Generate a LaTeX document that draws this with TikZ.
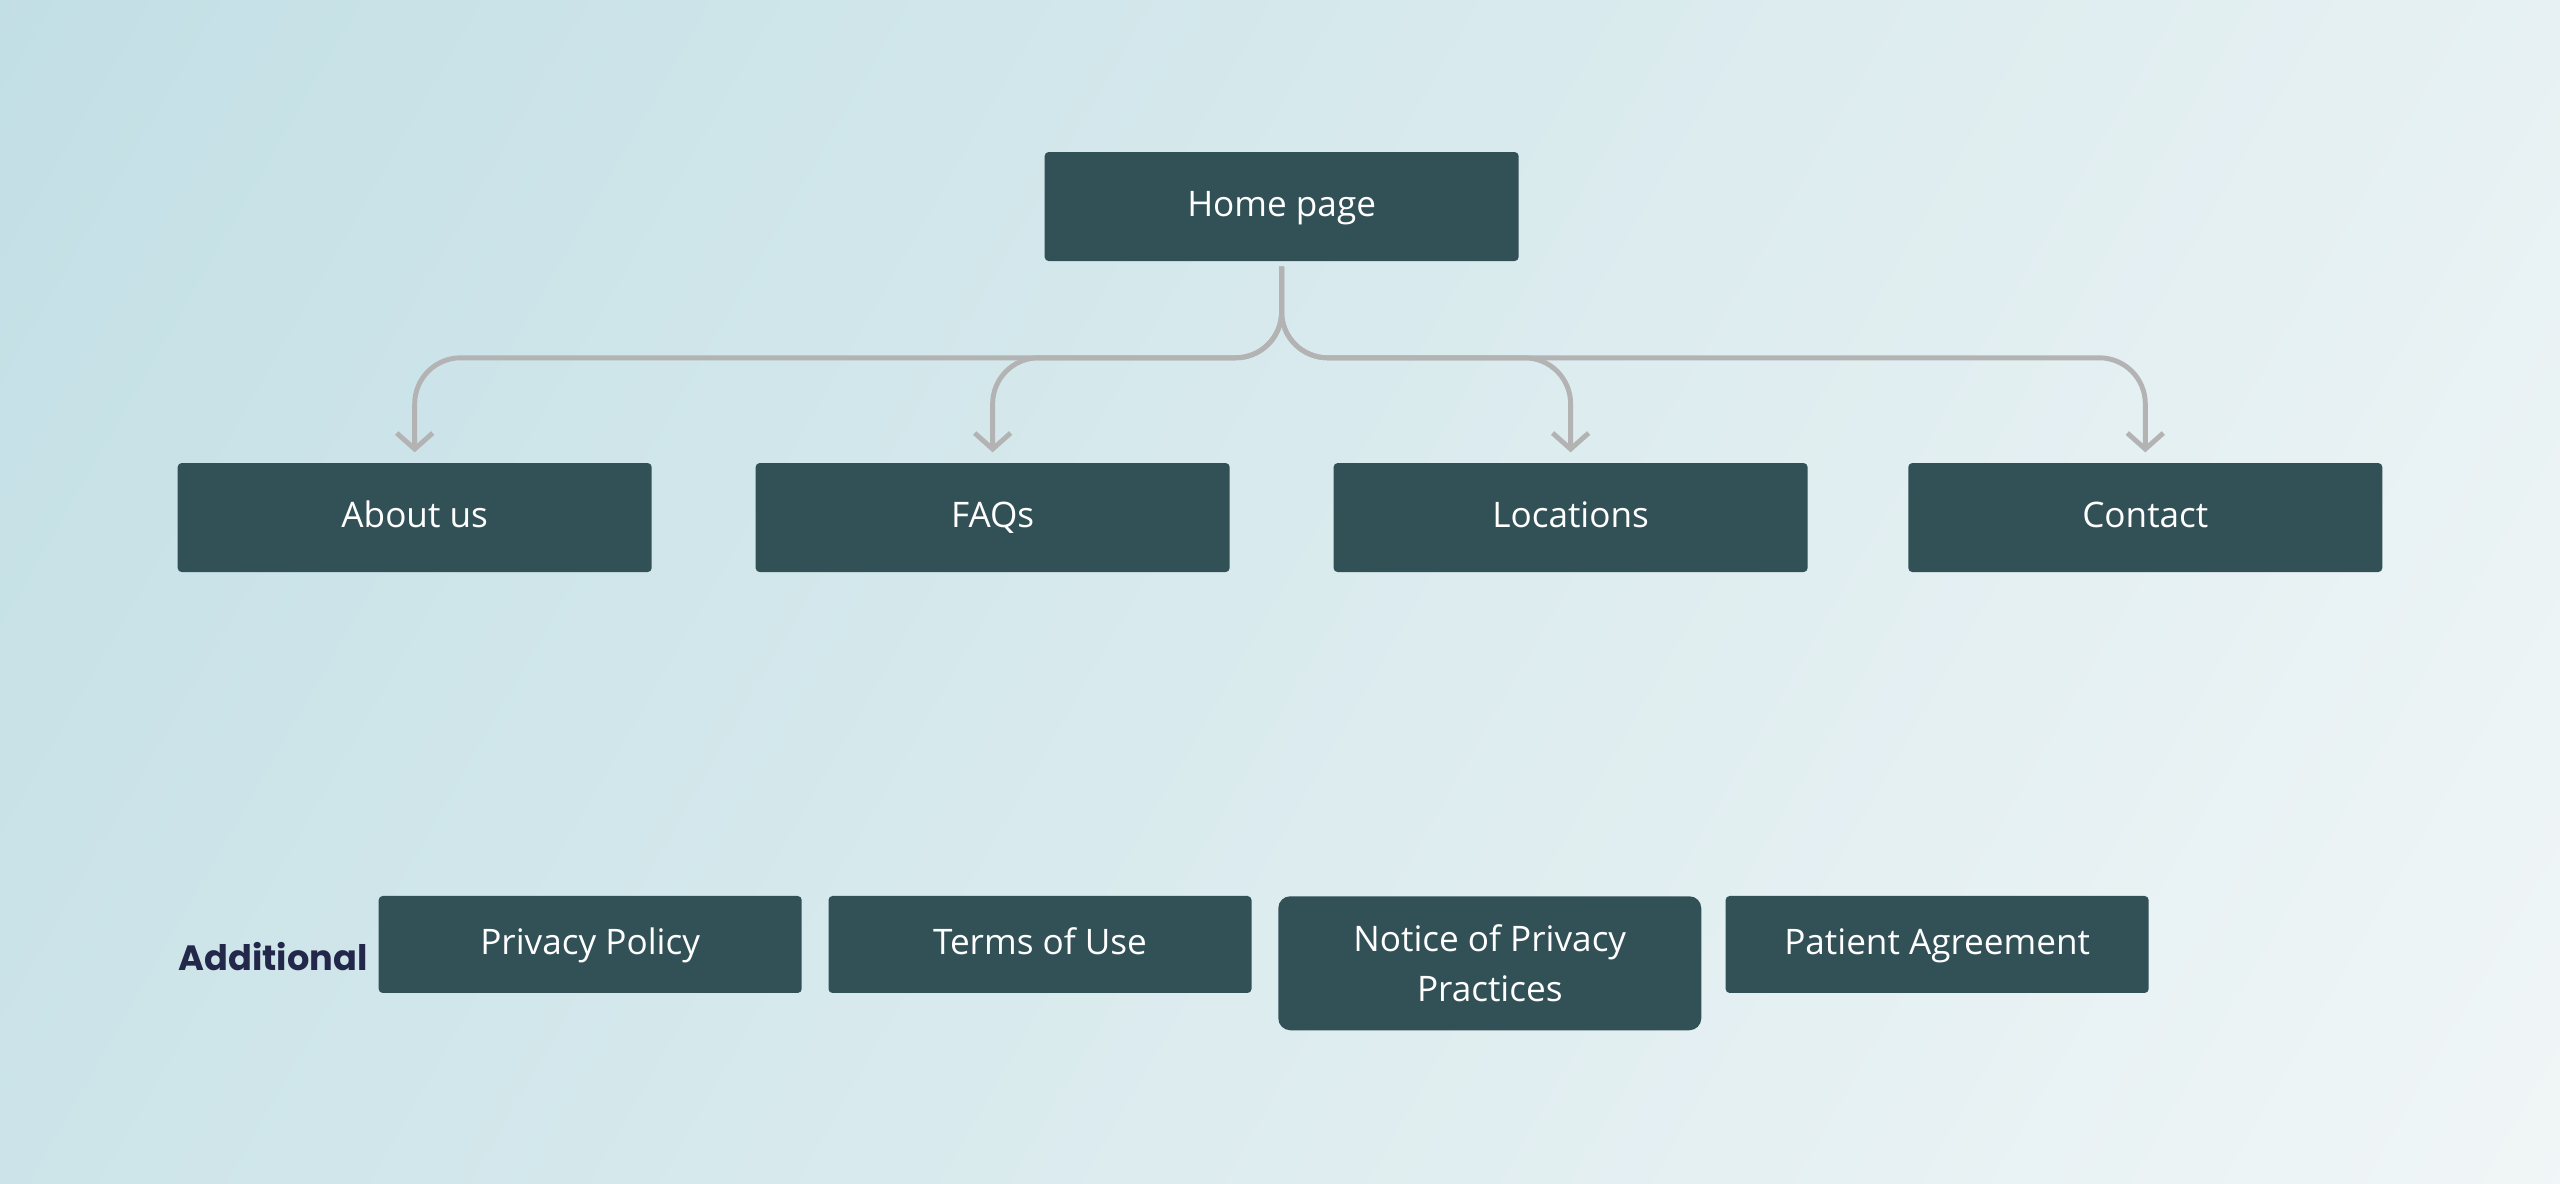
\documentclass[tikz,border=0pt]{standalone}
\usepackage{fontspec}
\setmainfont{Open Sans}
\newfontfamily\labelfont{Poppins}
\usetikzlibrary{arrows.meta,positioning}
\definecolor{boxfill}{HTML}{325157}
\definecolor{linkgray}{HTML}{B3B3B3}
\definecolor{navy}{HTML}{23284A}
\definecolor{bgblue}{HTML}{BCDCE3}
\definecolor{bgwhite}{HTML}{F7F9F9}
\tikzset{
  page/.style={draw=none,fill=boxfill,text=white,rounded corners=0.04cm,font=\fontsize{10}{14}\selectfont,minimum width=4.74cm,minimum height=1.09cm,inner sep=0pt,text height=7.5pt,text depth=2pt},
  extra/.style={page,minimum width=4.23cm,minimum height=0.97cm},
  link/.style={draw=linkgray,line width=1.4pt,rounded corners=0.46cm,-{Straight Barb[length=0.16cm,width=0.36cm,line width=1.4pt]},shorten >=0.1cm}
}
\begin{document}
\begin{tikzpicture}[x=0.01633cm,y=-0.01633cm]
	\useasboundingbox (0,0) rectangle (1568,725);
	\begin{scope}
		\clip (0,0) rectangle (1568,725);
		\shade[shading=axis,top color=bgblue,bottom color=bgwhite,shading angle=60] (-400,-600) rectangle (1968,1325);
	\end{scope}

	\node[page] (home) at (785,126.5) {Home page};
	\node[page] (about) at (254,317) {About us};
	\node[page] (faqs) at (608,317) {FAQs};
	\node[page] (locations) at (962,317) {Locations};
	\node[page] (contact) at (1314,317) {Contact};

	\node[extra] (privacy) at (361.5,578.5) {Privacy Policy};
	\node[extra] (terms) at (637,578.5) {Terms of Use};
	\node[extra,minimum height=1.34cm,rounded corners=0.12cm,align=center,text height=,text depth=] (notice) at (912.5,590) {Notice of Privacy\\Practices};
	\node[extra] (patient) at (1186.5,578.5) {Patient Agreement};
	\node[text=navy,font=\labelfont\bfseries\fontsize{10}{12}\selectfont,anchor=west,inner sep=0pt] (additional) at (109,586) {Additional};

	\foreach \target in {about,faqs,locations,contact}
		\draw[link] ([yshift=-0.05cm]home.south) |- ([yshift=0.03cm]\target.north |- 0,221) -- (\target.north);
\end{tikzpicture}
\end{document}
